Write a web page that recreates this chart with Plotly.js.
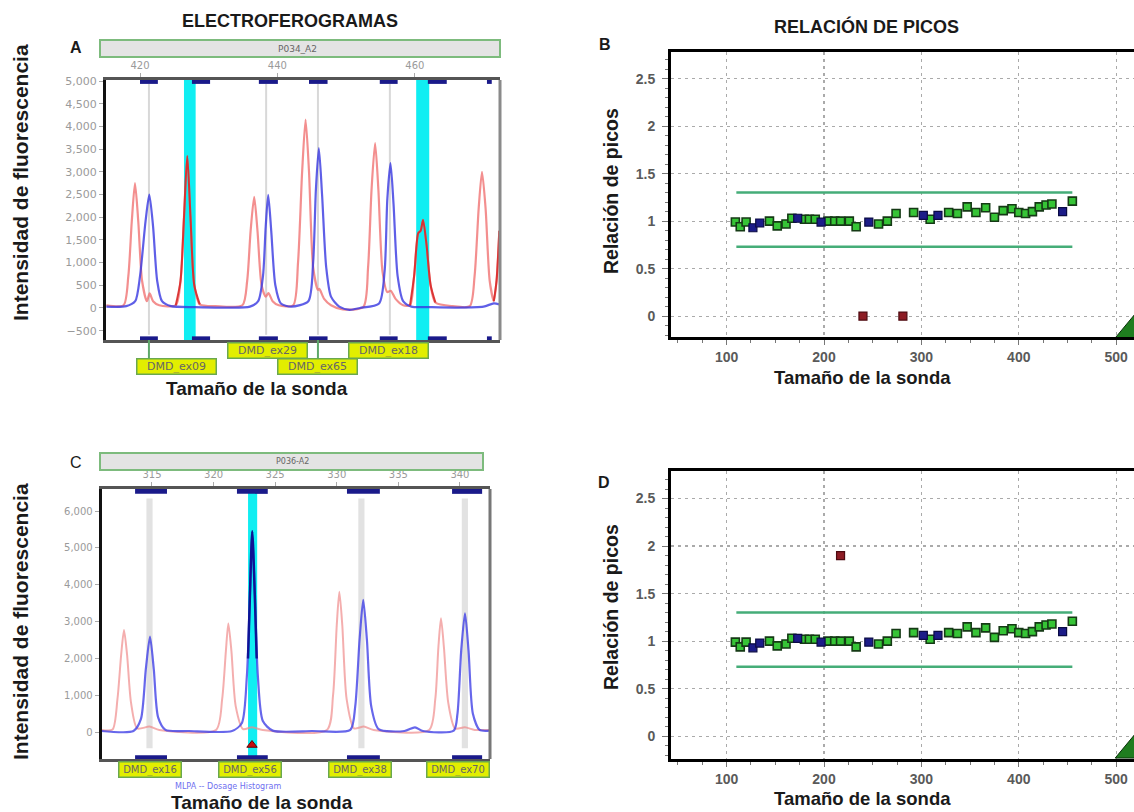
<!DOCTYPE html>
<html><head><meta charset="utf-8">
<script src="https://cdn.plot.ly/plotly-3.0.1.min.js"></script>
<style>html,body{margin:0;padding:0;background:#fff}#chart{width:1134px;height:812px}</style>
</head><body><div id="chart"></div>
<script>
// ---------- Panel A: electropherogram P034_A2 (size in bp, intensity) ----------
const aRedX = [415.1, 417.6, 418.3, 418.8, 419.27, 419.75, 420.3, 421.0, 421.4, 421.9, 422.8, 425.2, 425.9, 426.4, 426.88, 427.35, 427.9, 428.7, 431.0, 434.9, 435.6, 436.1, 436.62, 437.1, 437.7, 438.3, 438.7, 439.3, 440.2, 442.3, 443.0, 443.6, 444.1, 444.6, 445.2, 445.9, 446.1, 446.8, 447.8, 449.5, 452.5, 453.2, 453.7, 454.22, 454.7, 455.3, 456.0, 456.5, 457.2, 458.3, 459.3, 459.9, 460.5, 460.85, 461.2, 461.7, 462.3, 463.0, 465.5, 468.0, 468.7, 469.3, 469.78, 470.3, 470.9, 471.5, 471.9, 472.3];
const aRedY = [60, 60, 700, 1900, 2750, 1900, 600, 150, 320, 150, 60, 60, 600, 2000, 3350, 2000, 500, 80, 40, 60, 600, 1700, 2450, 1700, 500, 250, 330, 150, 60, 60, 1000, 3000, 4150, 3000, 900, 400, 420, 200, 60, -30, 20, 900, 2600, 3630, 2600, 800, 350, 380, 200, 60, 60, 700, 1650, 1700, 1940, 1400, 500, 120, 40, 40, 700, 2200, 3000, 2200, 600, 150, 600, 1700];
const aRedHiX = [425.2, 425.9, 426.4, 426.88, 427.35, 427.9, 428.7, null, 459.3, 459.9, 460.5, 460.85, 461.2, 461.7, 462.3, 463.0, null, 471.5, 471.9, 472.3];
const aRedHiY = [60, 600, 2000, 3350, 2000, 500, 80, null, 60, 700, 1650, 1700, 1940, 1400, 500, 120, null, 150, 600, 1700];
const aBlueX = [415.1, 418.0, 419.3, 420.0, 420.8, 421.35, 421.9, 422.5, 423.2, 424.5, 428.0, 432.0, 436.0, 437.2, 437.9, 438.3, 438.66, 439.1, 439.7, 440.5, 442.0, 444.5, 445.2, 445.6, 446.03, 446.5, 447.1, 447.8, 449.0, 450.5, 452.0, 454.8, 455.6, 456.0, 456.46, 456.9, 457.5, 458.3, 459.5, 462.0, 466.0, 470.0, 471.5, 472.3];
const aBlueY = [30, 40, 150, 700, 1900, 2500, 1800, 600, 150, 40, 20, 10, 30, 150, 700, 1800, 2490, 1700, 500, 100, 30, 150, 1000, 2600, 3520, 2500, 900, 250, 30, -40, 0, 100, 800, 2400, 3190, 2300, 700, 150, 30, 20, 10, 30, 100, 80];
const aPeakLines = [421.3, 438.36, 445.9, 456.37];
const aCyanFrom = [426.4, 460.2];
const aCyanTo = [428.1, 462.1];
const aBinFrom = [420.0, 427.56, 437.3, 444.6, 454.9, 461.9, 470.5];
const aBinTo = [422.6, 430.2, 440.07, 447.3, 457.5, 464.65, 471.2];
const aLabels = ['DMD_ex09', 'DMD_ex29', 'DMD_ex65', 'DMD_ex18'];
const aLabelX = [425.3, 438.54, 445.8, 456.14];
const aLabelRow = [1, 0, 1, 0];
const aConnectX = [421.3, 445.9];

// ---------- Panel C: electropherogram P036-A2 ----------
const cRedX = [310.9, 311.8, 312.2, 312.5, 312.73, 312.98, 313.3, 313.8, 314.8, 315.6, 320.2, 320.7, 321.0, 321.2, 321.45, 321.8, 322.4, 323.1, 324.0, 329.2, 329.7, 330.0, 330.21, 330.45, 330.8, 331.4, 332.2, 333.0, 337.5, 338.0, 338.25, 338.46, 338.7, 339.05, 339.6, 340.4, 341.2, 342.4];
const cRedY = [60, 70, 900, 2100, 2770, 2100, 800, 100, 150, 60, 60, 900, 2200, 2950, 2200, 700, 80, 130, 60, 60, 1000, 2900, 3810, 2900, 900, 100, 150, 60, 60, 900, 2300, 3090, 2300, 800, 100, 130, 60, 60];
const cBlueX = [310.9, 313.5, 314.1, 314.5, 314.84, 315.15, 315.5, 316.1, 318.0, 321.5, 322.3, 322.7, 322.95, 323.14, 323.35, 323.6, 324.0, 324.8, 328.0, 331.1, 331.5, 331.85, 332.15, 332.45, 332.8, 333.4, 335.5, 336.35, 337.0, 339.5, 339.8, 340.1, 340.41, 340.7, 341.05, 341.6, 342.4];
const cBlueY = [30, 30, 350, 1700, 2590, 1700, 400, 60, 30, 30, 250, 1500, 3700, 5450, 3700, 1500, 300, 40, 30, 60, 700, 2500, 3590, 2500, 700, 80, 30, 130, 30, 40, 500, 2200, 3225, 2200, 500, 60, 40];
const cBlueHiX = [322.8, 322.95, 323.14, 323.35, 323.5];
const cBlueHiY = [2000, 3700, 5450, 3700, 2000];
const cPeakLines = [314.8, 332.0, 340.4];
const cCyanFrom = [322.8];
const cCyanTo = [323.54];
const cBinFrom = [313.63, 321.9, 330.83, 339.36];
const cBinTo = [316.22, 324.4, 333.5, 341.8];
const cLabels = ['DMD_ex16', 'DMD_ex56', 'DMD_ex38', 'DMD_ex70'];
const cLabelX = [314.8, 322.96, 331.9, 339.88];
const cFlagX = [323.12];
const cFlagY = [-350];

// ---------- Panels B and D: peak ratio by probe size ----------
const greenX = [109, 114, 120, 144, 152, 161, 167, 180, 185, 191, 204, 211, 217, 226, 233, 256, 265, 274, 292, 309, 328, 337, 347, 356, 366, 375, 384, 393, 400, 407, 414, 421, 428, 434, 455];
const greenY = [0.99, 0.94, 0.99, 1.00, 0.95, 0.97, 1.03, 1.02, 1.02, 1.02, 1.00, 1.00, 1.00, 1.00, 0.94, 0.97, 1.00, 1.08, 1.09, 1.02, 1.09, 1.08, 1.15, 1.09, 1.14, 1.04, 1.11, 1.13, 1.09, 1.08, 1.10, 1.15, 1.17, 1.18, 1.21];
const blueX = [127, 134, 173, 197, 246, 302, 317, 445];
const blueY = [0.93, 0.98, 1.03, 0.99, 0.99, 1.06, 1.06, 1.10];
const redXB = [240, 281];
const redYB = [0, 0];
const redXD = [217];
const redYD = [1.9];
const limitX = [110, 455];
const upperLimit = 1.3;
const lowerLimit = 0.73;
const cornerX = [499, 520, 520, 499];
const cornerY = [-0.23, -0.23, 0.03, -0.23];

// ---------- helpers ----------
const W = 1134, H = 812;
const px = v => v / W;
const py = v => 1 - v / H;
const FONT = 'Liberation Sans, Arial, sans-serif';

const traces = [];
function line(x, y, xa, ya, color, width, shape) {
  traces.push({x, y, xaxis: xa, yaxis: ya, mode: 'lines', hoverinfo: 'skip',
    line: {color, width, shape: shape || 'spline', smoothing: 0.7}, connectgaps: false});
}
// A
line(aRedX, aRedY, 'x', 'y', 'rgba(240,115,115,0.8)', 2.2);
line(aBlueX, aBlueY, 'x', 'y', 'rgba(55,55,225,0.8)', 2.2);
line(aRedHiX, aRedHiY, 'x', 'y', 'rgba(215,35,35,0.85)', 2);
// C
line(cRedX, cRedY, 'x3', 'y3', 'rgba(240,140,140,0.7)', 2);
line(cBlueX, cBlueY, 'x3', 'y3', 'rgba(65,65,230,0.8)', 2.2);
line(cBlueHiX, cBlueHiY, 'x3', 'y3', 'rgba(10,10,140,0.9)', 2.5);
traces.push({x: cFlagX, y: cFlagY, xaxis: 'x3', yaxis: 'y3', mode: 'markers', hoverinfo: 'skip',
  marker: {symbol: 'triangle-up', size: 9, color: '#c41010', line: {color: '#600', width: 1}}});

// B and D
function ratioPanel(xa, ya, redX, redY) {
  traces.push({x: limitX, y: [upperLimit, upperLimit], xaxis: xa, yaxis: ya, mode: 'lines', hoverinfo: 'skip',
    line: {color: '#45ad78', width: 2.5}});
  traces.push({x: limitX, y: [lowerLimit, lowerLimit], xaxis: xa, yaxis: ya, mode: 'lines', hoverinfo: 'skip',
    line: {color: '#45ad78', width: 2.5}});
  traces.push({x: greenX, y: greenY, xaxis: xa, yaxis: ya, mode: 'markers', hoverinfo: 'skip',
    marker: {symbol: 'square', size: 8, color: '#36c436', line: {color: '#153a15', width: 1.6}}});
  traces.push({x: blueX, y: blueY, xaxis: xa, yaxis: ya, mode: 'markers', hoverinfo: 'skip',
    marker: {symbol: 'square', size: 8, color: '#1c1c88', line: {color: '#0b0b44', width: 1.2}}});
  traces.push({x: redX, y: redY, xaxis: xa, yaxis: ya, mode: 'markers', hoverinfo: 'skip',
    marker: {symbol: 'square', size: 8, color: '#8d1c24', line: {color: '#4d0a10', width: 1.2}}});
  traces.push({x: cornerX, y: cornerY, xaxis: xa, yaxis: ya, mode: 'lines', fill: 'toself', hoverinfo: 'skip',
    fillcolor: '#1f7d1f', line: {color: '#0a300a', width: 1}});
}
ratioPanel('x2', 'y2', redXB, redYB);
ratioPanel('x4', 'y4', redXD, redYD);

// ---------- shapes ----------
const shapes = [];
function bands(xa, ya, from, to, color, y0, y1, layer) {
  from.forEach((f, i) => shapes.push({type: 'rect', xref: xa, yref: ya + ' domain', x0: f, x1: to[i],
    y0, y1, fillcolor: color, line: {width: 0}, layer: layer || 'below'}));
}
// A
aPeakLines.forEach(v => shapes.push({type: 'line', xref: 'x', yref: 'y domain', x0: v, x1: v, y0: 0.02, y1: 0.985,
  line: {color: '#d8d8d8', width: 2}, layer: 'below'}));
bands('x', 'y', aCyanFrom, aCyanTo, '#10eef2', 0, 1);
bands('x', 'y', aBinFrom, aBinTo, '#1a1a8a', 0.985, 1.0, 'above');
bands('x', 'y', aBinFrom, aBinTo, '#1a1a8a', 0.0, 0.014, 'above');
shapes.push({type: 'line', xref: 'x domain', yref: 'y domain', x0: 1, x1: 1, y0: 0, y1: 1, line: {color: '#8a8a8a', width: 3}});
aConnectX.forEach(v => shapes.push({type: 'line', xref: 'x', yref: 'paper', x0: v, x1: v, y0: py(340), y1: py(359),
  line: {color: '#5ea86a', width: 2}}));
// C
cPeakLines.forEach(v => shapes.push({type: 'rect', xref: 'x3', yref: 'y3 domain', x0: v - 0.25, x1: v + 0.25, y0: 0.04, y1: 0.965,
  fillcolor: '#e2e2e2', line: {width: 0}, layer: 'below'}));
bands('x3', 'y3', cCyanFrom, cCyanTo, '#10eef2', 0, 1);
bands('x3', 'y3', cBinFrom, cBinTo, '#1a1a8a', 0.982, 1.0, 'above');
bands('x3', 'y3', cBinFrom, cBinTo, '#1a1a8a', 0.0, 0.014, 'above');
shapes.push({type: 'line', xref: 'x3 domain', yref: 'y3 domain', x0: 1, x1: 1, y0: 0, y1: 1, line: {color: '#777', width: 3}});
// header bars
shapes.push({type: 'rect', xref: 'paper', yref: 'paper', x0: px(100), x1: px(500), y0: py(57), y1: py(40),
  fillcolor: '#e4e4e4', line: {color: '#7dbb7d', width: 2}});
shapes.push({type: 'rect', xref: 'paper', yref: 'paper', x0: px(100), x1: px(483), y0: py(470), y1: py(453),
  fillcolor: '#e4e4e4', line: {color: '#7dbb7d', width: 2}});

// ---------- annotations ----------
const ann = [];
function txt(text, x, y, size, opts) {
  ann.push(Object.assign({text, x: px(x), y: py(y), xref: 'paper', yref: 'paper', showarrow: false,
    xanchor: 'center', yanchor: 'middle', font: {family: FONT, size, color: '#1a1a1a'}}, opts || {}));
}
txt('<b>ELECTROFEROGRAMAS</b>', 290, 21, 18);
txt('<b>RELACIÓN DE PICOS</b>', 866, 26, 18);
txt('<b>A</b>', 76, 47, 16);
txt('<b>B</b>', 605, 45, 16);
txt('C', 76, 462, 16);
txt('<b>D</b>', 604, 482, 16);
txt('P034_A2', 297, 48.5, 9, {font: {family: 'DejaVu Sans, sans-serif', size: 9, color: '#666'}});
txt('P036-A2', 292, 461.5, 8, {font: {family: 'DejaVu Sans, sans-serif', size: 8, color: '#666'}});
txt('<b>Intensidad de fluorescencia</b>', 20, 183, 21, {textangle: -90});
txt('<b>Intensidad de fluorescencia</b>', 20, 622, 21, {textangle: -90});
txt('<b>Relación de picos</b>', 611, 191, 19.5, {textangle: -90});
txt('<b>Relación de picos</b>', 611, 607, 19.5, {textangle: -90});
txt('<b>Tamaño de la sonda</b>', 257, 388, 19);
txt('<b>Tamaño de la sonda</b>', 262, 802, 19);
txt('<b>Tamaño de la sonda</b>', 862, 378, 18.5);
txt('<b>Tamaño de la sonda</b>', 862, 798, 18.5);
txt('MLPA -- Dosage Histogram', 228, 786, 8, {font: {family: 'DejaVu Sans, sans-serif', size: 8, color: '#6f6ff0'}});
aLabels.forEach((t, i) => ann.push({text: t, x: aLabelX[i], xref: 'x', y: py(aLabelRow[i] ? 366.5 : 350), yref: 'paper',
  showarrow: false, xanchor: 'center', yanchor: 'middle', width: 76, height: 12, borderpad: 1,
  bgcolor: '#e2ee00', bordercolor: '#6aa84f', borderwidth: 1.5,
  font: {family: 'DejaVu Sans, sans-serif', size: 11, color: '#666'}}));
cLabels.forEach((t, i) => ann.push({text: t, x: cLabelX[i], xref: 'x3', y: py(769), yref: 'paper',
  showarrow: false, xanchor: 'center', yanchor: 'middle', width: 59, height: 12, borderpad: 1,
  bgcolor: '#e2ee00', bordercolor: '#6aa84f', borderwidth: 1.5,
  font: {family: 'DejaVu Sans, sans-serif', size: 10, color: '#666'}}));

// ---------- axes ----------
function epX(domain, range, dtick, anchor) {
  return {domain, range, anchor, side: 'top', tickmode: 'linear', tick0: 0, dtick, ticks: 'outside', ticklen: 4,
    tickcolor: '#aaa', tickfont: {family: 'DejaVu Sans, sans-serif', size: 10, color: '#9a9a9a'},
    showline: true, linecolor: '#555', linewidth: 3, mirror: true,
    showgrid: false, zeroline: false, fixedrange: true};
}
function epY(domain, range, dtick, anchor, fs) {
  return {domain, range, anchor, tickmode: 'linear', tick0: 0, dtick, tickformat: ',d', ticks: 'outside', ticklen: 4,
    tickcolor: '#aaa', tickfont: {family: 'DejaVu Sans, sans-serif', size: fs, color: '#9a9a9a'},
    showline: true, linecolor: '#111', linewidth: 3,
    showgrid: false, zeroline: false, fixedrange: true};
}
const rTick = {family: FONT, size: 14, color: '#5a5a5a', weight: 'bold'};
function rX(domain, anchor) {
  return {domain, anchor, range: [42.9, 518.3], tickmode: 'linear', tick0: 0, dtick: 100, ticks: 'outside', ticklen: 5,
    tickcolor: '#777', tickfont: rTick, ticklabelstandoff: 0,
    minor: {ticks: 'outside', dtick: 25, tick0: 0, ticklen: 3, tickcolor: '#777', showgrid: false},
    showgrid: true, gridcolor: '#aaaaaa', griddash: '3px,4px', gridwidth: 1.2,
    showline: true, linecolor: '#000', linewidth: 3, mirror: true, zeroline: false, fixedrange: true};
}
function rY(domain, range, anchor) {
  return {domain, anchor, range, tickmode: 'linear', tick0: 0, dtick: 0.5, ticks: 'outside', ticklen: 6,
    tickcolor: '#777', tickfont: rTick, ticklabelstandoff: 4,
    minor: {ticks: 'outside', dtick: 0.1, tick0: 0, ticklen: 3, tickcolor: '#777', showgrid: false},
    showgrid: true, gridcolor: '#aaaaaa', griddash: '3px,4px', gridwidth: 1.2,
    showline: true, linecolor: '#000', linewidth: 3, zeroline: false, fixedrange: true};
}

const layout = {
  width: W, height: H, margin: {l: 0, r: 0, t: 0, b: 0}, showlegend: false,
  paper_bgcolor: '#fff', plot_bgcolor: '#fff', font: {family: FONT},
  xaxis: epX([px(106), px(500)], [415.05, 472.4], 20, 'y'),
  yaxis: epY([py(340), py(80)], [-705, 5022], 500, 'x', 11),
  xaxis3: epX([px(101.7), px(490)], [310.92, 342.44], 5, 'y3'),
  yaxis3: epY([py(759), py(489)], [-730, 6600], 1000, 'x3', 10),
  xaxis2: rX([px(671), 1], 'y2'),
  yaxis2: rY([py(337), py(52)], [-0.22, 2.78], 'x2'),
  xaxis4: rX([px(671), 1], 'y4'),
  yaxis4: rY([py(759), py(471)], [-0.24, 2.79], 'x4'),
  shapes, annotations: ann
};
Plotly.newPlot('chart', traces, layout, {staticPlot: true, displayModeBar: false});
</script></body></html>
